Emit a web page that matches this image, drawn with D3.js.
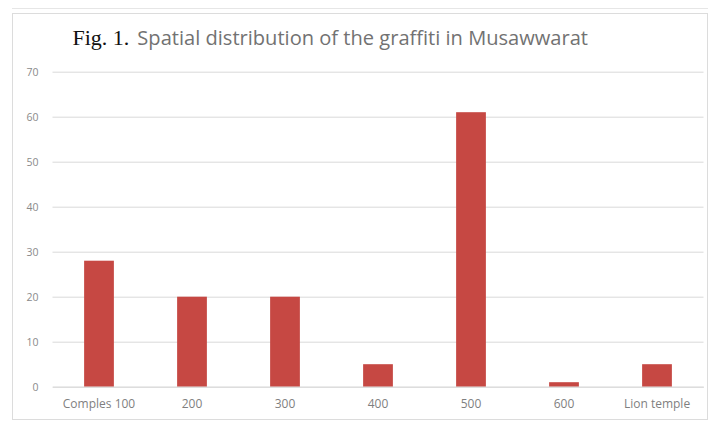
<!DOCTYPE html>
<html>
<head>
<meta charset="utf-8">
<script src="https://cdn.jsdelivr.net/npm/d3@7"></script>
<style>
  body { margin: 0; background: #fff; }
  svg { display: block; }
</style>
</head>
<body>
<div id="chart"></div>
<script>
// Chart data
var sites = ["Comples 100", "200", "300", "400", "500", "600", "Lion temple"];
var graffitiCounts = [28, 20, 20, 5, 61, 1, 5];
var yTicks = [0, 10, 20, 30, 40, 50, 60, 70];

var svgWidth = 716;
var svgHeight = 423;

var margin = { top: 71.7, right: 12.5, bottom: 36.3, left: 52.5 };
var chartWidth = svgWidth - margin.left - margin.right;
var chartHeight = svgHeight - margin.top - margin.bottom;

var svg = d3.select("#chart")
    .append("svg")
    .attr("width", svgWidth)
    .attr("height", svgHeight);

// Frame around the chart
svg.append("line")
    .attr("x1", 12).attr("x2", 708)
    .attr("y1", 8.5).attr("y2", 8.5)
    .attr("stroke", "#e6e6e6");
svg.append("rect")
    .attr("x", 12.5).attr("y", 13.5)
    .attr("width", 695).attr("height", 406)
    .attr("fill", "none")
    .attr("stroke", "#dcdcdc");

// Title
var title = svg.append("text")
    .attr("x", 72.5)
    .attr("y", 45);
title.append("tspan")
    .attr("font-family", "'Liberation Serif', 'Times New Roman', serif")
    .attr("font-size", "22px")
    .attr("fill", "#111")
    .text("Fig. 1.");
title.append("tspan")
    .attr("dx", 8)
    .attr("font-family", "'Open Sans', sans-serif")
    .attr("font-size", "17px")
    .attr("fill", "#727272")
    .attr("class", "subtitle")
    .text("Spatial distribution of the graffiti in Musawwarat");

// fit the sans part of the title to the width in the figure
var sub = title.select(".subtitle").node();
var w = sub.getComputedTextLength();
title.select(".subtitle").attr("font-size", (17 * 451 / w) + "px");

var chartGroup = svg.append("g")
    .attr("transform", `translate(${margin.left}, ${margin.top})`);

var xBandScale = d3.scaleBand()
    .domain(sites)
    .range([0, chartWidth])
    .paddingInner(0.68)
    .paddingOuter(0.34);

var yLinearScale = d3.scaleLinear()
    .domain([0, 70])
    .range([chartHeight, 0]);

// Gridlines and y labels
var leftAxis = d3.axisLeft(yLinearScale)
    .tickValues(yTicks)
    .tickSize(-chartWidth)
    .tickPadding(14);

var yAxisG = chartGroup.append("g").call(leftAxis);
yAxisG.select(".domain").remove();
yAxisG.selectAll(".tick line")
    .attr("stroke", "#d9d9d9");
yAxisG.selectAll(".tick text")
    .attr("fill", "#8a8a8a")
    .attr("font-family", "'Open Sans', sans-serif")
    .attr("font-size", "10.5px");

// Bars
chartGroup.selectAll("rect.bar")
    .data(graffitiCounts)
    .enter().append("rect")
    .attr("class", "bar")
    .attr("x", (d, i) => xBandScale(sites[i]))
    .attr("y", d => yLinearScale(d))
    .attr("width", xBandScale.bandwidth())
    .attr("height", d => chartHeight - yLinearScale(d))
    .attr("fill", "#c64843");

// X axis labels
var bottomAxis = d3.axisBottom(xBandScale)
    .tickSize(0)
    .tickPadding(13);

var xAxisG = chartGroup.append("g")
    .attr("transform", "translate(0, " + chartHeight + ")")
    .call(bottomAxis);
xAxisG.select(".domain")
    .attr("stroke", "#d9d9d9");
xAxisG.selectAll(".tick text")
    .attr("fill", "#7f7f7f")
    .attr("font-family", "'Open Sans', sans-serif")
    .attr("font-size", "12px");
</script>
</body>
</html>
